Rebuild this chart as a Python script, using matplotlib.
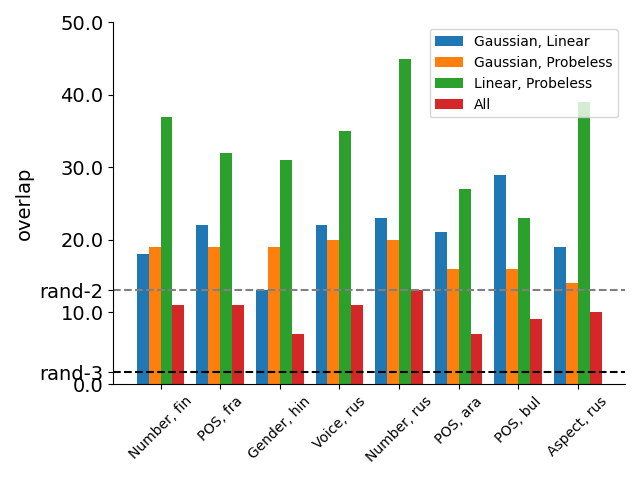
import numpy as np
from matplotlib import pyplot as plt

tasks = ["Number, fin", "POS, fra", "Gender, hin", "Voice, rus",
         "Number, rus", "POS, ara", "POS, bul", "Aspect, rus"]
series = ["Gaussian, Linear", "Gaussian, Probeless", "Linear, Probeless", "All"]
gauss_linear = [18, 22, 13, 22, 23, 21, 29, 19]
gauss_probeless = [19, 19, 19, 20, 20, 16, 16, 14]
linear_probeless = [37, 32, 31, 35, 45, 27, 23, 39]
all_three = [11, 11, 7, 11, 13, 7, 9, 10]
rand2 = 13
rand3 = 1.7

values = [gauss_linear, gauss_probeless, linear_probeless, all_three]
x = np.arange(len(tasks))
width = 0.2

fig, ax = plt.subplots(figsize=(6.4, 4.8))
for i, (name, vals) in enumerate(zip(series, values)):
    ax.bar(x + (i - 1.5) * width, vals, width, label=name)

ax.axhline(rand2, color="gray", linestyle="--")
ax.axhline(rand3, color="black", linestyle="--")

ticks = [0, 10, 20, 30, 40, 50]
ax.set_yticks(ticks + [rand2, rand3])
ax.set_yticklabels(["%.1f" % t for t in ticks] + ["rand-2", "rand-3"], fontsize=14)
ax.set_ylim(0, 50)
ax.set_ylabel("overlap", fontsize=14)
ax.set_xticks(x)
ax.set_xticklabels(tasks, rotation=45)
ax.spines["top"].set_visible(False)
ax.spines["right"].set_visible(False)
ax.legend()

plt.tight_layout()
plt.savefig("out.png")
